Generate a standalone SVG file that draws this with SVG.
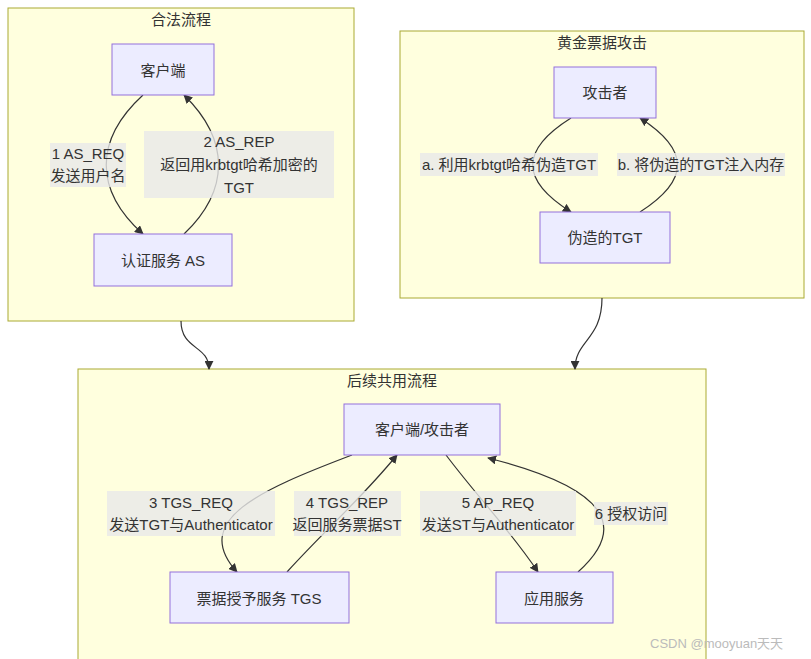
<svg xmlns="http://www.w3.org/2000/svg" width="811" height="659" viewBox="0 0 811 659">
<defs>
<style>
text{font-family:"Liberation Sans","Noto Sans CJK SC",sans-serif;font-size:15px;fill:#333;text-anchor:middle;dominant-baseline:central}
.cluster{fill:#ffffde;stroke:#aaaa33;stroke-width:1}
.node{fill:#ececff;stroke:#9370db;stroke-width:1}
.edge{fill:none;stroke:#333;stroke-width:1.2}
.lbl{fill:#e8e8e8;fill-opacity:0.8}
.wm{fill:#bbb;font-size:13px;text-anchor:start}
</style>
<marker id="arr" viewBox="0 0 10 10" refX="9" refY="5" markerWidth="9" markerHeight="9" markerUnits="userSpaceOnUse" orient="auto">
<path d="M0,0 L10,5 L0,10 z" fill="#333"/>
</marker>
</defs>
<rect width="811" height="659" fill="#fff"/>

<g id="cluster-legal">
<rect class="cluster" x="8" y="8" width="346" height="313"/>
<text x="181" y="19">合法流程</text>
</g>
<g id="cluster-golden">
<rect class="cluster" x="400" y="31" width="404" height="267"/>
<text x="602" y="42">黄金票据攻击</text>
</g>
<g id="cluster-common">
<rect class="cluster" x="78" y="369" width="628" height="295"/>
<text x="392" y="380">后续共用流程</text>
</g>

<g id="connectors">
<path class="edge" marker-end="url(#arr)" d="M143,95 C94,140 94,190 143,234"/>
<path class="edge" marker-end="url(#arr)" d="M184,234 C230,190 230,140 184,95"/>
<path class="edge" marker-end="url(#arr)" d="M571,118 C520,150 520,180 571,212"/>
<path class="edge" marker-end="url(#arr)" d="M640,212 C690,180 690,150 640,118"/>
<path class="edge" marker-end="url(#arr)" d="M352,455 C260,490 190,520 237,572"/>
<path class="edge" marker-end="url(#arr)" d="M287,572 C330,525 360,500 397,455"/>
<path class="edge" marker-end="url(#arr)" d="M446,455 C480,500 510,530 538,572"/>
<path class="edge" marker-end="url(#arr)" d="M578,572 C625,530 615,490 488,458"/>
<path class="edge" marker-end="url(#arr)" d="M181,321 C181,350 209,345 209,369"/>
<path class="edge" marker-end="url(#arr)" d="M602,298 C602,340 575,340 575,369"/>
</g>

<g id="edge-labels">
<rect class="lbl" x="50" y="143" width="76" height="44"/>
<text x="88" y="153">1 AS_REQ</text>
<text x="88" y="175">发送用户名</text>
<rect class="lbl" x="144" y="131" width="190" height="67"/>
<text x="239" y="141">2 AS_REP</text>
<text x="239" y="164">返回用krbtgt哈希加密的</text>
<text x="239" y="187">TGT</text>
<rect class="lbl" x="420" y="153" width="178" height="23"/>
<text x="509" y="164">a. 利用krbtgt哈希伪造TGT</text>
<rect class="lbl" x="617" y="153" width="168" height="23"/>
<text x="701" y="164">b. 将伪造的TGT注入内存</text>
<rect class="lbl" x="107" y="491" width="168" height="45"/>
<text x="191" y="502">3 TGS_REQ</text>
<text x="191" y="524">发送TGT与Authenticator</text>
<rect class="lbl" x="294" y="491" width="107" height="45"/>
<text x="347" y="502">4 TGS_REP</text>
<text x="347" y="524">返回服务票据ST</text>
<rect class="lbl" x="420" y="491" width="156" height="45"/>
<text x="498" y="502">5 AP_REQ</text>
<text x="498" y="524">发送ST与Authenticator</text>
<rect class="lbl" x="594" y="502" width="74" height="23"/>
<text x="631" y="513">6 授权访问</text>
</g>

<g id="node-client">
<rect class="node" x="112" y="44" width="102" height="51"/>
<text x="163" y="70">客户端</text>
</g>
<g id="node-as">
<rect class="node" x="94" y="234" width="138" height="52"/>
<text x="163" y="260">认证服务 AS</text>
</g>
<g id="node-attacker">
<rect class="node" x="554" y="67" width="102" height="51"/>
<text x="605" y="92">攻击者</text>
</g>
<g id="node-forged">
<rect class="node" x="540" y="212" width="130" height="51"/>
<text x="605" y="237">伪造的TGT</text>
</g>
<g id="node-client-attacker">
<rect class="node" x="344" y="404" width="156" height="51"/>
<text x="422" y="429">客户端/攻击者</text>
</g>
<g id="node-tgs">
<rect class="node" x="170" y="572" width="179" height="51"/>
<text x="259" y="598">票据授予服务 TGS</text>
</g>
<g id="node-app">
<rect class="node" x="496" y="572" width="117" height="51"/>
<text x="554" y="598">应用服务</text>
</g>

<text class="wm" x="650" y="643">CSDN @mooyuan天天</text>
</svg>
